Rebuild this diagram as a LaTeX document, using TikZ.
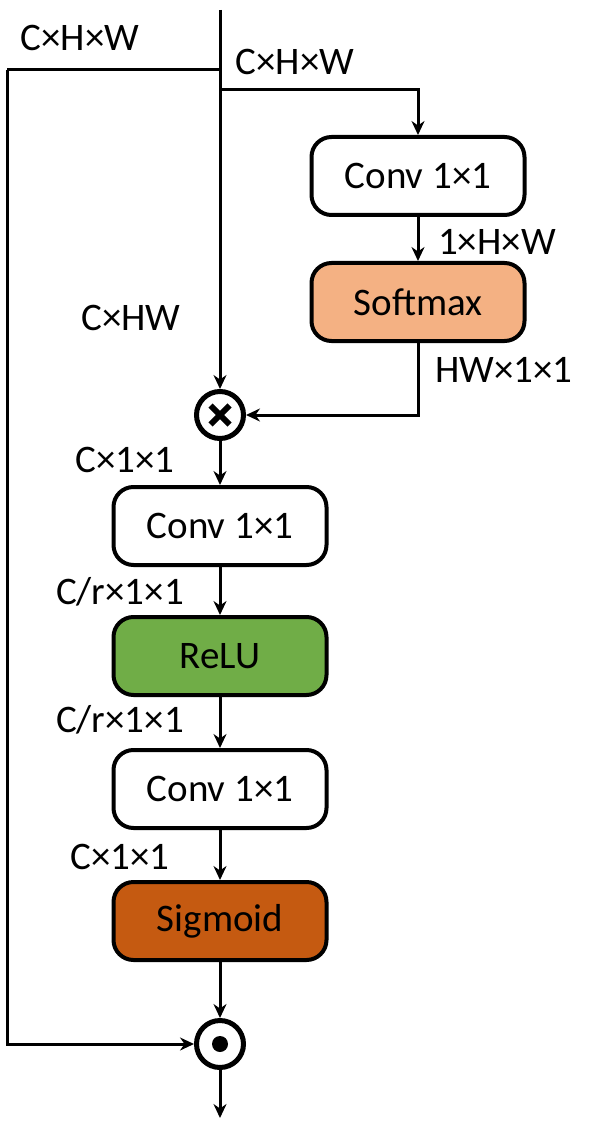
\documentclass[tikz,border=0pt]{standalone}
\usepackage{fontspec}
\setmainfont{Carlito}
\usetikzlibrary{positioning,arrows.meta}

\tikzset{
  block/.style={draw,line width=2pt,rounded corners=10pt,minimum width=106.5pt,
    minimum height=39pt,inner sep=0pt},
  op/.style={draw,circle,line width=2.5pt,minimum size=23.5pt,inner sep=0pt},
  dim/.style={inner sep=0pt},
}

\begin{document}
\begin{tikzpicture}[x=0.5pt,y=-0.5pt,on grid,node distance=65pt,
  >={Stealth[length=7pt,width=6.5pt]},line width=1.5pt,
  font=\fontsize{19.5}{23}\selectfont]
  \useasboundingbox (0,0) rectangle (594,1128);
  \coordinate (in) at (220,10);
  \coordinate (splitL) at (220,70);
  \coordinate (splitR) at (220,90);
  \coordinate (cornerL) at (7,70);
  % attention branch
  \node[block] (conv1) at (418,176) {Conv 1×1};
  \node[block,fill={rgb,255:red,244;green,177;blue,131}] (soft) [below=63pt of conv1] {Softmax};
  % main chain
  \node[op] (mul) at (220,415) {};
  \draw[line width=3pt] ([shift={(-9.5,-9.5)}]mul.center) -- ([shift={(9.5,9.5)}]mul.center);
  \draw[line width=3pt] ([shift={(-9.5,9.5)}]mul.center) -- ([shift={(9.5,-9.5)}]mul.center);
  \node[block] (conv2) [below=55.5pt of mul] {Conv 1×1};
  \node[block,fill={rgb,255:red,112;green,173;blue,71}] (relu) [below=of conv2] {ReLU};
  \node[block] (conv3) [below=66.5pt of relu] {Conv 1×1};
  \node[block,fill={rgb,255:red,197;green,90;blue,17}] (sig) [below=66pt of conv3] {Sigmoid};
  \node[op] (prod) [below=61.5pt of sig] {};
  \fill (prod.center) circle[radius=4pt];
  \coordinate[below=37pt of prod] (out);
  % dimension labels
  \node[dim] (dIn) at (80,38) {C×H×W};
  \node[dim] (dR) at (295,62) {C×H×W};
  \node[dim] (dConv1) at (497,242) {1×H×W};
  \node[dim] (dFlat) at (131,318) {C×HW};
  \node[dim] (dSoft) at (504,370) {HW×1×1};
  \node[dim] (dMul) at (125,460) {C×1×1};
  \node[dim] (dConv2) at (120,592) {C/r×1×1};
  \node[dim] (dRelu) at (120,720) {C/r×1×1};
  \node[dim] (dConv3) at (120,857) {C×1×1};
  % connectors
  \draw[->] (in) -- (mul);
  \draw (splitL) -- (cornerL);
  \draw[->] (cornerL) |- (prod.west);
  \draw[->] (splitR) -| (conv1.north);
  \draw[->] (conv1) -- (soft);
  \draw[->] (soft.south) |- (mul.east);
  \draw[->] (mul) -- (conv2);
  \draw[->] (conv2) -- (relu);
  \draw[->] (relu) -- (conv3);
  \draw[->] (conv3) -- (sig);
  \draw[->] (sig) -- (prod);
  \draw[->] (prod) -- (out);
\end{tikzpicture}
\end{document}
